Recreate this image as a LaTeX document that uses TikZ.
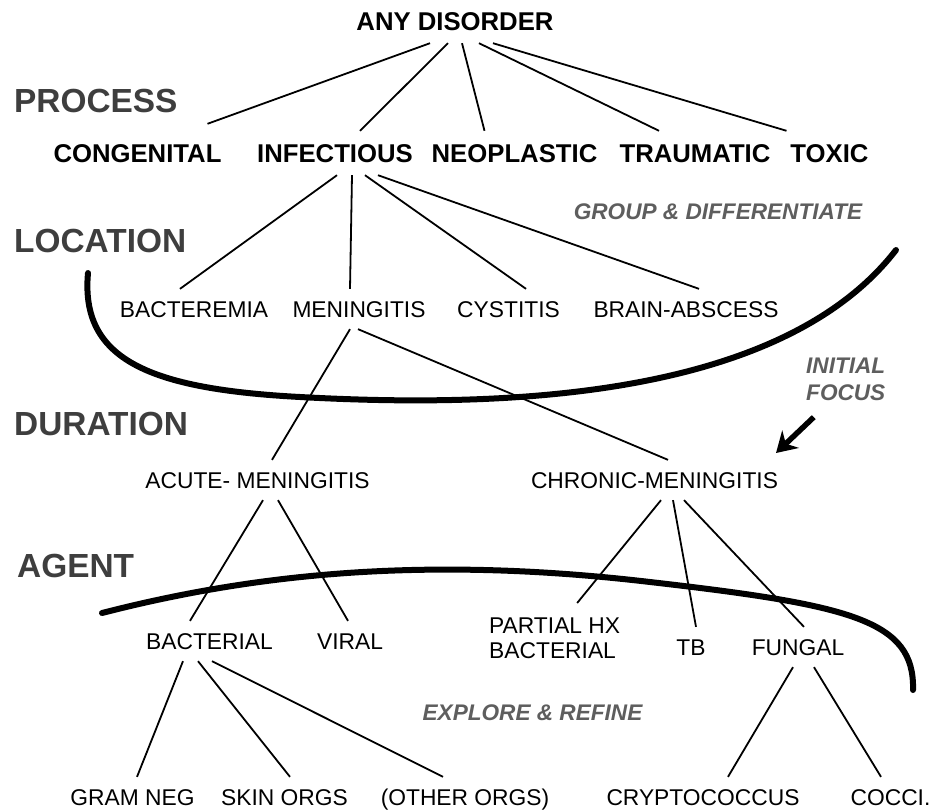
\documentclass[tikz,border=0pt]{standalone}
\usepackage{fontspec}
\setmainfont{Liberation Sans}
\usetikzlibrary{arrows.meta}
\definecolor{levgray}{HTML}{3E3E3E}
\definecolor{notegray}{HTML}{5E5E5E}

\begin{document}
\begin{tikzpicture}[x = 1pt, y = -1pt,
	level/.style = {anchor = west, inner sep = 0pt, text = levgray, font = \fontsize{33.4}{36}\selectfont\bfseries},
	cat/.style = {inner sep = 0pt, outer ysep = 13pt, text height = 18.4pt, text depth = 0pt, font = \fontsize{25.7}{28}\selectfont\bfseries},
	item/.style = {inner sep = 0pt, outer ysep = 12pt, text height = 16.3pt, text depth = 0pt, font = \fontsize{22.8}{25}\selectfont},
	note/.style = {inner sep = 0pt, text = notegray, font = \fontsize{22.6}{27}\selectfont\bfseries\itshape},
	branch/.style = {line width = 1.8pt},
	sweep/.style = {line width = 6pt, line cap = round}]
		\useasboundingbox (0,0) rectangle (932,811);
		
		\node (proc) at (14,101) [level] {PROCESS};
		\node (loc) at (14,241) [level] {LOCATION};
		\node (dur) at (14,424) [level] {DURATION};
		\node (agent) at (17,566) [level] {AGENT};
		
		\node (anydis) at (455,21) [cat] {ANY DISORDER};
		\node (cong) at (137.5,153) [cat] {CONGENITAL};
		\node (infect) at (335,153) [cat] {INFECTIOUS};
		\node (neopl) at (514.5,153) [cat] {NEOPLASTIC};
		\node (traum) at (695,153) [cat] {TRAUMATIC};
		\node (toxic) at (829.5,153) [cat] {TOXIC};
		
		\draw [branch] ([xshift = -25pt]anydis.south) -- ([xshift = 70pt, yshift = 7pt]cong.north);
		\draw [branch] ([xshift = -7pt]anydis.south) -- ([xshift = 25pt]infect.north);
		\draw [branch] ([xshift = 7pt]anydis.south) -- ([xshift = -30pt]neopl.north);
		\draw [branch] ([xshift = 24pt]anydis.south) -- ([xshift = -36pt]traum.north);
		\draw [branch] ([xshift = 38pt]anydis.south) -- ([xshift = -43pt]toxic.north);
		
		\node (bactm) at (194,309) [item] {BACTEREMIA};
		\node (mening) at (359,309) [item] {MENINGITIS};
		\node (cyst) at (508.5,309) [item] {CYSTITIS};
		\node (brain) at (686,309) [item] {BRAIN-ABSCESS};
		
		\draw [branch] ([xshift = 2pt]infect.south) -- ([xshift = -14pt]bactm.north);
		\draw [branch] ([xshift = 17pt]infect.south) -- ([xshift = -9pt]mening.north);
		\draw [branch] ([xshift = 30pt]infect.south) -- ([xshift = 17.5pt]cyst.north);
		\draw [branch] ([xshift = 43pt]infect.south) -- ([xshift = 13pt]brain.north);
		
		\node (acute) at (257.5,480) [item] {ACUTE- MENINGITIS};
		\node (chron) at (654.5,480) [item] {CHRONIC-MENINGITIS};
		
		\draw [branch] ([xshift = -9pt]mening.south) -- ([xshift = 14.5pt]acute.north);
		\draw [branch] ([xshift = -1pt]mening.south) -- ([xshift = 13.5pt]chron.north);
		
		\node (bact) at (209.5,641) [item] {BACTERIAL};
		\node (viral) at (350,641) [item] {VIRAL};
		\node (phx) at (489,618) [item, outer ysep = 0pt, text height = , text depth = , anchor = north west, align = left] {PARTIAL HX\\BACTERIAL};
		\node (tb) at (691,647) [item] {TB};
		\node (fung) at (798,647) [item] {FUNGAL};
		
		\draw [branch] ([xshift = 5.5pt]acute.south) -- ([xshift = -19.5pt]bact.north);
		\draw [branch] ([xshift = 20.5pt]acute.south) -- ([xshift = -2pt]viral.north);
		\draw [branch] ([xshift = 6.5pt]chron.south) -- ([xshift = 22.5pt, yshift = 15pt]phx.north);
		\draw [branch] ([xshift = 18.5pt]chron.south) -- ([xshift = 5pt]tb.north);
		\draw [branch] ([xshift = 29.5pt]chron.south) -- ([xshift = 6pt]fung.north);
		
		\node (gram) at (132.5,797) [item] {GRAM NEG};
		\node (skin) at (284.5,797) [item] {SKIN ORGS};
		\node (other) at (465,797) [item] {(OTHER ORGS)};
		\node (crypto) at (703,797) [item] {CRYPTOCOCCUS};
		\node (cocci) at (890.5,797) [item] {COCCI.};
		
		\draw [branch] ([xshift = -26.5pt]bact.south) -- ([xshift = 4.5pt]gram.north);
		\draw [branch] ([xshift = -11.5pt]bact.south) -- ([xshift = 5.5pt]skin.north);
		\draw [branch] ([xshift = 2.5pt]bact.south) -- ([xshift = -22pt]other.north);
		\draw [branch] ([xshift = -5pt]fung.south) -- ([xshift = 25pt]crypto.north);
		\draw [branch] ([xshift = 16pt]fung.south) -- ([xshift = -9.5pt]cocci.north);
		
		\node (group) at (718,212) [note] {GROUP \& DIFFERENTIATE};
		\node (focus) at (806,358) [note, anchor = north west, align = left] {INITIAL\\FOCUS};
		\node (explore) at (532.5,713) [note] {EXPLORE \& REFINE};
		
		\draw [sweep] (88,273) .. controls (80,360) and (150,389) .. (300,397) .. controls (500,408) and (780,400) .. (896,250);
		\draw [sweep] (102,613) .. controls (250,575) and (420,555) .. (650,582) .. controls (850,605) and (915,620) .. (913,690);
		
		\coordinate (ftip) at (776,453);
		\draw [line width = 5.5pt, -{Stealth[length = 20pt, width = 24pt]}] ([xshift = -32pt, yshift = -16pt]focus.south) -- (ftip);
		\end{tikzpicture}
\end{document}
